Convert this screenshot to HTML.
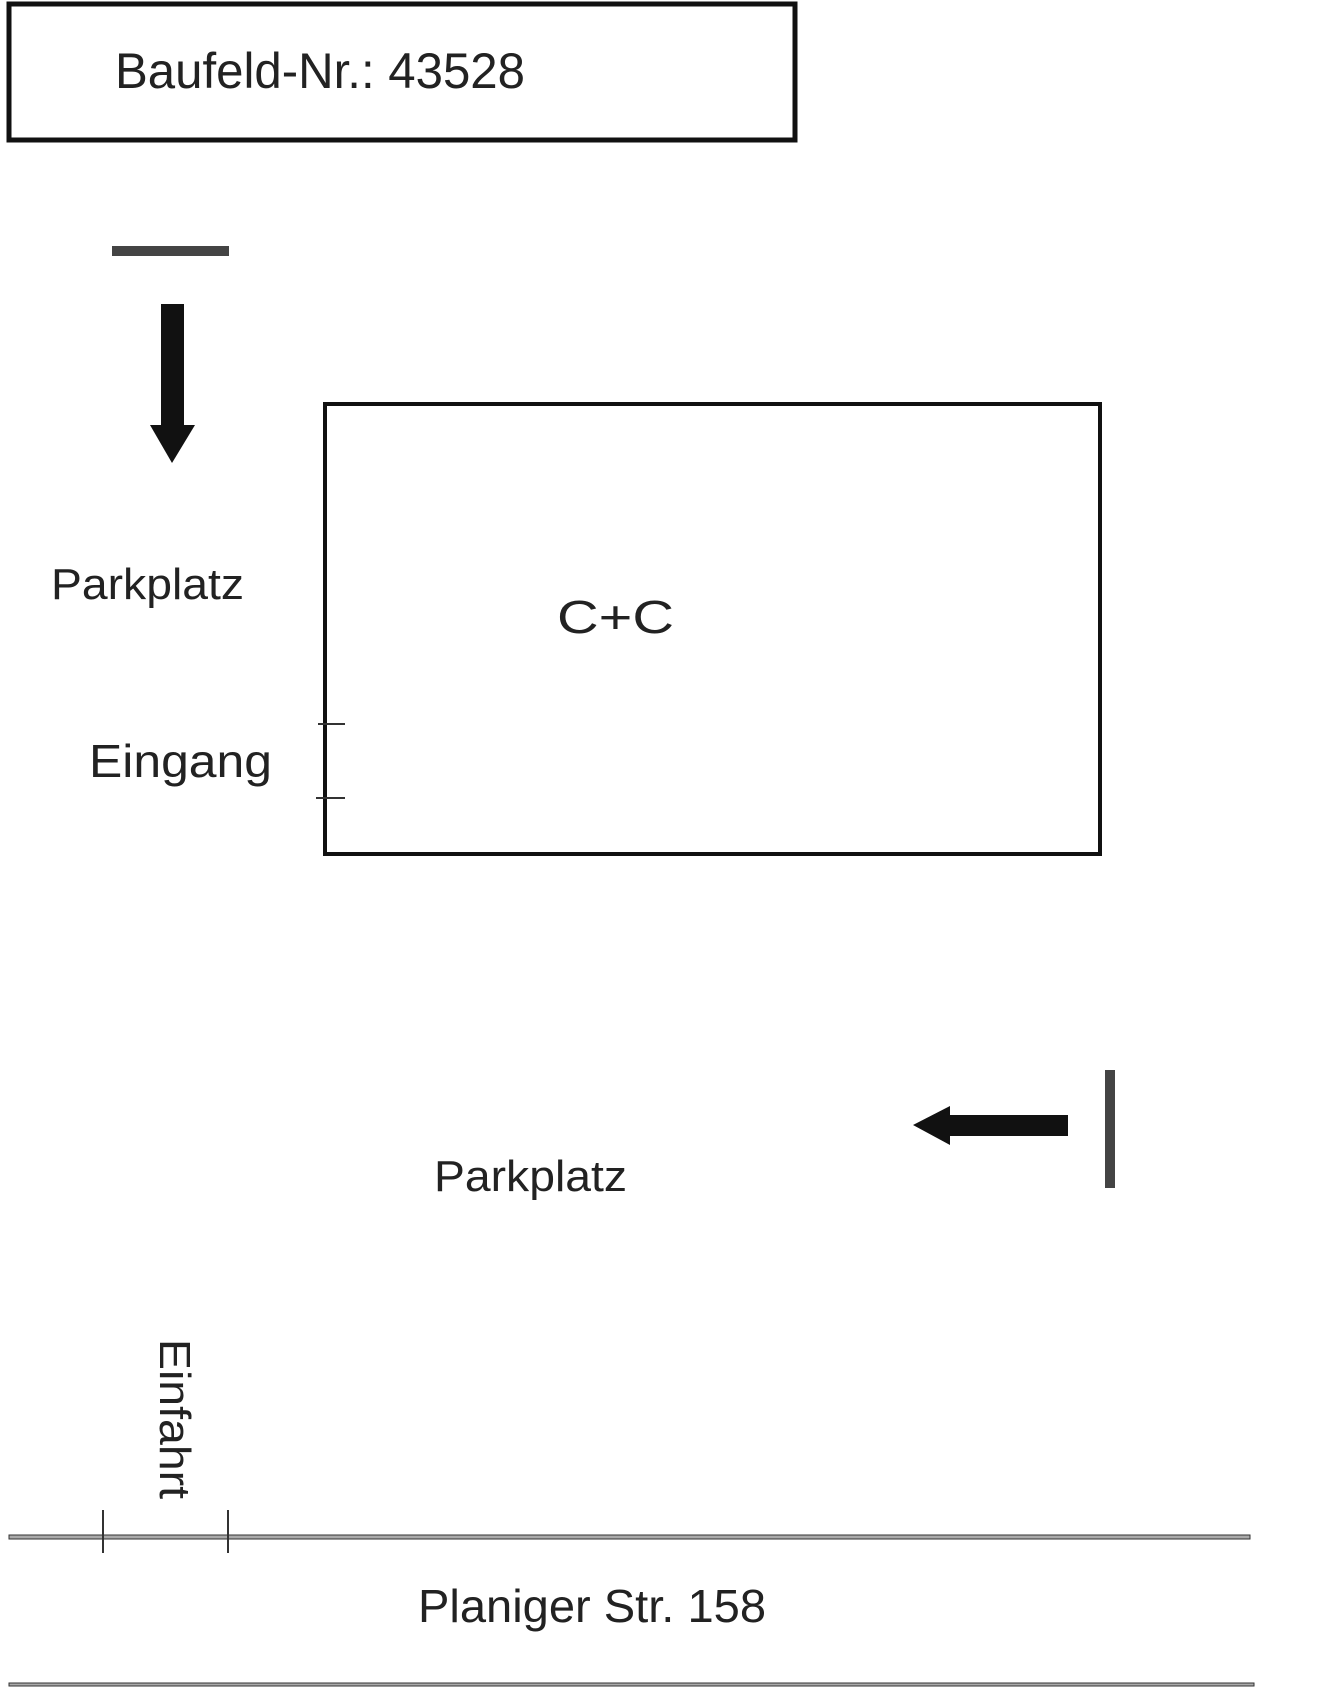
<!DOCTYPE html>
<html><head><meta charset="utf-8"><style>html,body{margin:0;padding:0;background:#fff}svg{display:block}</style></head>
<body>
<svg width="1336" height="1687" viewBox="0 0 1336 1687" xmlns="http://www.w3.org/2000/svg" font-family="Liberation Sans, sans-serif" fill="#222">
<rect x="9" y="4" width="786" height="136" fill="none" stroke="#111" stroke-width="5"/>
<text x="115" y="88" font-size="50" textLength="410" lengthAdjust="spacingAndGlyphs">Baufeld-Nr.: 43528</text>
<rect x="112" y="246" width="117" height="10" fill="#444"/>
<rect x="161" y="304" width="23" height="122" fill="#111"/>
<polygon points="150,425 195,425 172,463" fill="#111"/>
<rect x="325" y="404" width="775" height="450" fill="none" stroke="#111" stroke-width="4"/>
<line x1="318" y1="724" x2="345" y2="724" stroke="#333" stroke-width="2"/>
<line x1="316" y1="798" x2="345" y2="798" stroke="#333" stroke-width="2"/>
<text x="51" y="599" font-size="44" textLength="193" lengthAdjust="spacingAndGlyphs">Parkplatz</text>
<text x="557" y="633" font-size="46" textLength="117" lengthAdjust="spacingAndGlyphs">C+C</text>
<text x="89" y="777" font-size="46" textLength="183" lengthAdjust="spacingAndGlyphs">Eingang</text>
<rect x="950" y="1115" width="118" height="21" fill="#111"/>
<polygon points="913,1125 950,1106 950,1145" fill="#111"/>
<rect x="1105" y="1070" width="10" height="118" fill="#444"/>
<text x="434" y="1191" font-size="44" textLength="193" lengthAdjust="spacingAndGlyphs">Parkplatz</text>
<text transform="translate(160,1339) rotate(90)" x="0" y="0" font-size="44" textLength="160" lengthAdjust="spacingAndGlyphs">Einfahrt</text>
<rect x="9" y="1535" width="1241" height="4" fill="#aaa" stroke="#333" stroke-width="1"/>
<line x1="103" y1="1510" x2="103" y2="1553" stroke="#333" stroke-width="2"/>
<line x1="228" y1="1510" x2="228" y2="1553" stroke="#333" stroke-width="2"/>
<text x="418" y="1622" font-size="46" textLength="348" lengthAdjust="spacingAndGlyphs">Planiger Str. 158</text>
<rect x="9" y="1683" width="1245" height="3" fill="#aaa" stroke="#333" stroke-width="1"/>
</svg>
</body></html>
